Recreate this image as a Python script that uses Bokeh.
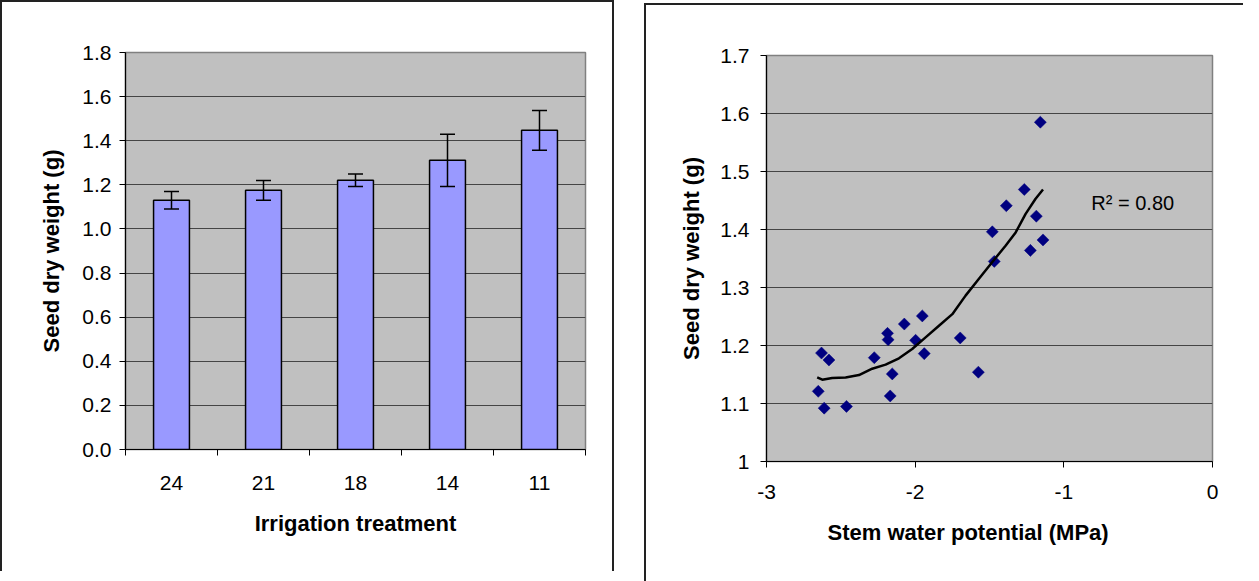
import math
from bokeh.plotting import figure
from bokeh.models import (ColumnDataSource, Range1d, FixedTicker, Whisker, TeeHead, Title)
from bokeh.layouts import row
from bokeh.core.properties import value
from bokeh.embed import file_html
from bokeh.resources import INLINE

# ---------------- data ----------------
treatments = ["24", "21", "18", "14", "11"]
seed_weight = [1.130, 1.175, 1.221, 1.311, 1.447]
seed_err = [0.040, 0.045, 0.028, 0.118, 0.090]
left_yticks = [0.0, 0.2, 0.4, 0.6, 0.8, 1.0, 1.2, 1.4, 1.6, 1.8]

swp = [-2.652, -2.612, -2.630, -2.580, -2.462, -2.275, -2.186, -2.182, -2.154,
       -2.168, -2.073, -1.952, -1.997, -1.939, -1.697, -1.575, -1.481, -1.468,
       -1.387, -1.266, -1.185, -1.225, -1.140, -1.158]
sdw = [1.121, 1.092, 1.187, 1.175, 1.095, 1.179, 1.221, 1.210, 1.151,
       1.113, 1.237, 1.251, 1.209, 1.186, 1.213, 1.154, 1.396, 1.345,
       1.441, 1.469, 1.423, 1.364, 1.382, 1.585]
trend_x = [-2.659, -2.625, -2.558, -2.468, -2.378, -2.289, -2.199, -2.109, -2.020,
           -1.930, -1.840, -1.750, -1.661, -1.571, -1.481, -1.392, -1.324, -1.257,
           -1.190, -1.140]
trend_y = [1.145, 1.141, 1.144, 1.145, 1.149, 1.160, 1.167, 1.178, 1.194,
           1.214, 1.234, 1.254, 1.286, 1.315, 1.344, 1.372, 1.395, 1.427,
           1.453, 1.469]
right_xticks = [-3, -2, -1, 0]
right_yticks = [1.0, 1.1, 1.2, 1.3, 1.4, 1.5, 1.6, 1.7]
right_ylabels = ["1", "1.1", "1.2", "1.3", "1.4", "1.5", "1.6", "1.7"]
r2_text = "R\u00b2 = 0.80"
right_xtitle = "Stem water potential (MPa)"

FONT = "Liberation Sans"
TICK_FS = "21px"
TITLE_FS = "22px"
BORDER = "2px solid #222222"


def style_common(p):
    p.background_fill_color = "#C0C0C0"
    p.border_fill_color = "white"
    p.outline_line_color = "#808080"
    p.outline_line_width = 1.5
    p.xgrid.grid_line_color = None
    p.ygrid.grid_line_color = "#454545"
    p.ygrid.grid_line_width = 1
    for ax in (p.xaxis[0], p.yaxis[0]):
        ax.axis_line_color = "black"
        ax.axis_line_width = 1.2
        ax.major_tick_line_color = "black"
        ax.major_tick_line_width = 1
        ax.major_tick_in = 0
        ax.major_tick_out = 6
        ax.minor_tick_in = 0
        ax.major_label_text_font = FONT
        ax.major_label_text_font_size = TICK_FS
        ax.major_label_text_color = "black"
        ax.axis_label_text_font = FONT
        ax.axis_label_text_font_size = TITLE_FS
        ax.axis_label_text_font_style = "bold"
        ax.axis_label_text_color = "black"
    p.yaxis[0].minor_tick_line_color = None


# ---------------- left: bar chart ----------------
p1 = figure(width=614, height=571, output_backend="svg", toolbar_location=None,
            x_range=Range1d(0, 5), y_range=Range1d(0, 1.8),
            min_border_left=123, min_border_right=31,
            min_border_top=50, min_border_bottom=124)
style_common(p1)

xpos = [i + 0.5 for i in range(len(treatments))]
src1 = ColumnDataSource(dict(
    x=xpos, top=seed_weight,
    upper=[m + e for m, e in zip(seed_weight, seed_err)],
    lower=[m - e for m, e in zip(seed_weight, seed_err)],
))
p1.vbar(x="x", top="top", bottom=0, width=0.39, source=src1,
        fill_color="#9999FF", line_color="black", line_width=1.5)
p1.add_layout(Whisker(base="x", upper="upper", lower="lower", source=src1,
                      line_color="black", line_width=1.5, level="overlay",
                      upper_head=TeeHead(size=15, line_color="black", line_width=1.5),
                      lower_head=TeeHead(size=15, line_color="black", line_width=1.5)))

p1.xaxis[0].ticker = FixedTicker(ticks=xpos, minor_ticks=list(range(len(treatments) + 1)))
p1.xaxis[0].major_label_overrides = {x: t for x, t in zip(xpos, treatments)}
p1.xaxis[0].major_tick_out = 0
p1.xaxis[0].major_tick_line_color = None
p1.xaxis[0].minor_tick_line_color = "black"
p1.xaxis[0].minor_tick_out = 6
p1.xaxis[0].major_label_standoff = 20
p1.xaxis[0].axis_label = "Irrigation treatment"
p1.xaxis[0].axis_label_standoff = 18

p1.yaxis[0].ticker = FixedTicker(ticks=left_yticks)
p1.yaxis[0].major_label_overrides = {t: f"{t:.1f}" for t in left_yticks}
p1.yaxis[0].major_label_standoff = 8
p1.yaxis[0].axis_label = "Seed dry weight (g)"
p1.yaxis[0].axis_label_standoff = 15

p1.styles = {"border-top": BORDER, "border-left": BORDER, "border-right": BORDER}

# ---------------- right: scatter ----------------
p2 = figure(width=599, height=580, output_backend="svg", toolbar_location=None,
            x_range=Range1d(-3, 0), y_range=Range1d(1.0, 1.7),
            min_border_left=120, min_border_right=33,
            min_border_top=50, min_border_bottom=124)
style_common(p2)
p2.margin = (3, 0, 0, 0)

p2.scatter(swp, sdw, marker="square", angle=math.pi / 4, size=8.5,
           fill_color="#000080", line_color="#000080", line_width=0.5)
p2.line(trend_x, trend_y, line_color="black", line_width=2.5)
p2.text(x=[-0.815], y=[1.445], text=[r2_text], text_font=value(FONT),
        text_font_size="20px", text_baseline="middle", text_align="left",
        text_color="black")

p2.xaxis[0].ticker = FixedTicker(ticks=right_xticks)
p2.xaxis[0].major_label_overrides = {t: str(t) for t in right_xticks}
p2.xaxis[0].minor_tick_line_color = None
p2.xaxis[0].major_label_standoff = 17

# x-axis title, set a little left of the frame centre as in the original
p2.add_layout(Title(text=right_xtitle, align="left", offset=61, standoff=33,
                    text_font=FONT, text_font_size=TITLE_FS,
                    text_font_style="bold", text_color="black"), "below")

p2.yaxis[0].ticker = FixedTicker(ticks=right_yticks)
p2.yaxis[0].major_label_overrides = {t: l for t, l in zip(right_yticks, right_ylabels)}
p2.yaxis[0].major_label_standoff = 11
p2.yaxis[0].axis_label = "Seed dry weight (g)"
p2.yaxis[0].axis_label_standoff = 13

p2.styles = {"border-top": BORDER, "border-left": BORDER}

layout = row(p1, p2, spacing=30)
open("out.html", "w").write(file_html(layout, INLINE))
